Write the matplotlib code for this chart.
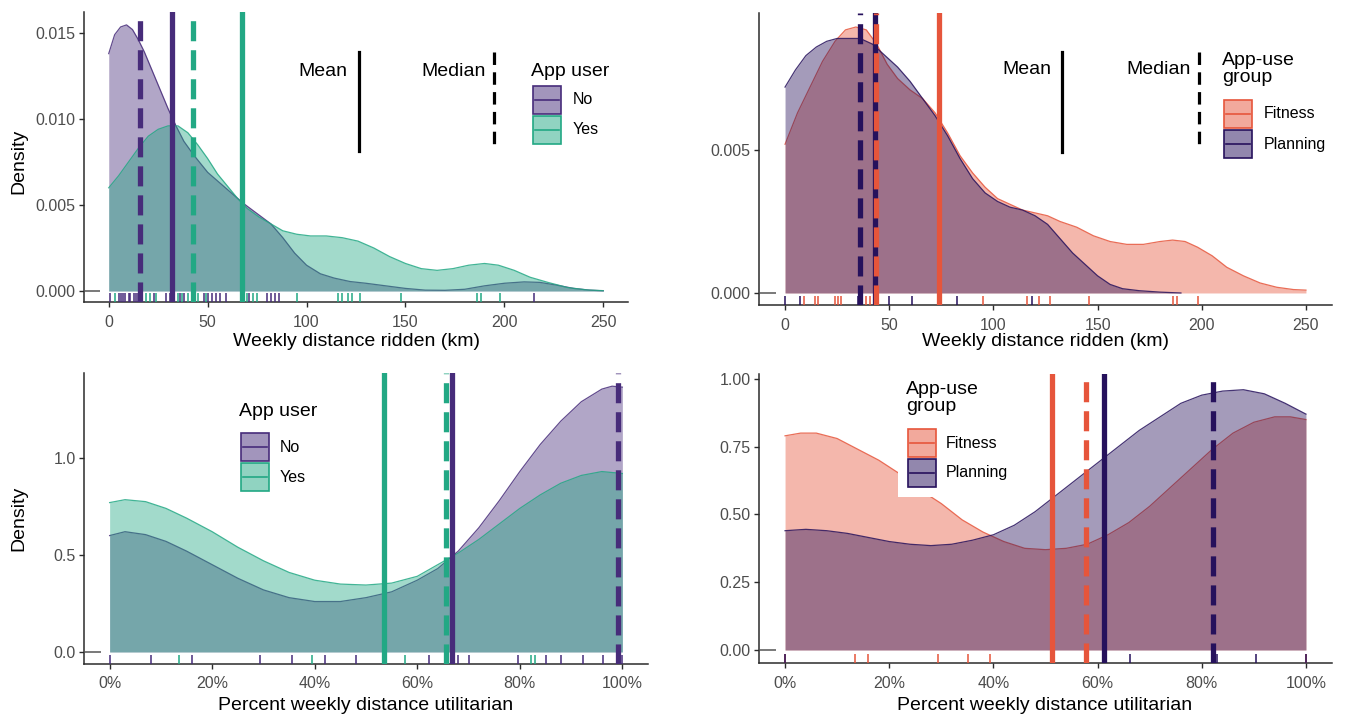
import matplotlib

matplotlib.use("Agg")

import matplotlib.pyplot as plt
from matplotlib.colors import to_rgba
from matplotlib.lines import Line2D
from matplotlib.patches import Rectangle

plt.rcParams["font.family"] = ["Liberation Sans", "DejaVu Sans"]

W, H = 1351, 720

NO_COLOR = "#472c7a"
YES_COLOR = "#22a884"
FITNESS_COLOR = "#e6553b"
PLANNING_COLOR = "#26115c"
AXIS = "#2b2b2b"
TICK_TEXT = "#4d4d4d"
FILL_ALPHA = 0.42

# weekly distance, app user yes / no
km_no = [0, 3, 6, 9, 12, 15, 18, 22, 26, 30, 34, 38, 43, 50, 57, 63, 68, 75, 82, 88, 94,
         100, 107, 114, 122, 130, 140, 150, 160, 170, 180, 190, 200, 210, 218, 226, 235, 243, 250]
dens_no = [0.0138, 0.0149, 0.01535, 0.01547, 0.0152, 0.0146, 0.0139, 0.0128, 0.0117, 0.0106,
           0.0096, 0.0087, 0.0079, 0.0069, 0.0062, 0.0056, 0.0051, 0.0045, 0.0039, 0.0031,
           0.0022, 0.0015, 0.0010, 0.00075, 0.00055, 0.00045, 0.0003, 0.00015, 0.00005,
           0.00004, 0.0001, 0.0003, 0.00045, 0.00053, 0.0005, 0.00035, 0.00015, 0.00005, 0.00001]
km_yes = [0, 5, 10, 15, 20, 25, 30, 35, 40, 45, 50, 55, 60, 65, 70, 76, 82, 88, 95, 102, 110,
          118, 126, 134, 142, 150, 158, 166, 174, 182, 190, 197, 205, 213, 222, 232, 242, 250]
dens_yes = [0.0060, 0.0067, 0.0075, 0.0083, 0.0090, 0.0094, 0.0096, 0.0096, 0.0092, 0.0085,
            0.0077, 0.0068, 0.0061, 0.0054, 0.0048, 0.0043, 0.0039, 0.0035, 0.0033, 0.0032,
            0.0032, 0.0031, 0.0029, 0.0025, 0.0020, 0.0016, 0.0013, 0.0012, 0.0013, 0.0015,
            0.0016, 0.0015, 0.0012, 0.0008, 0.0005, 0.0002, 0.00006, 0.00002]
rug_km_no = [0.5, 5, 6, 7, 8, 10, 11, 13, 14, 15, 16, 17, 23, 29, 31, 36, 38, 48, 50, 52, 54,
             56, 59.5, 71, 80, 82, 84, 86, 215]
rug_km_yes = [3, 19, 21, 24, 33, 35, 37, 40, 42, 43, 45, 49, 67, 70, 73, 75, 95, 116, 118,
              121, 123, 127, 147.5, 186, 188, 198]
mean_km_no, median_km_no = 32, 16
mean_km_yes, median_km_yes = 67.5, 42.5

# weekly distance, fitness / planning app users
km_fit = [0, 6, 12, 18, 24, 29, 34, 39, 44, 49, 54, 60, 66, 72, 78, 84, 90, 96, 102, 108, 114,
          120, 126, 132, 140, 148, 156, 164, 172, 180, 186, 192, 198, 205, 212, 220, 228, 236,
          244, 250]
dens_fit = [0.0052, 0.0063, 0.0072, 0.0081, 0.0088, 0.0092, 0.0093, 0.0092, 0.0087, 0.0080,
            0.0075, 0.0071, 0.0068, 0.0063, 0.0056, 0.0048, 0.0042, 0.0037, 0.0033, 0.0031,
            0.0029, 0.0028, 0.0027, 0.0025, 0.0023, 0.0020, 0.0018, 0.0017, 0.0017, 0.0018,
            0.00185, 0.0018, 0.0016, 0.0013, 0.0009, 0.0006, 0.00035, 0.0002, 0.00012, 0.0001]
km_plan = [0, 5, 10, 15, 20, 25, 30, 36, 42, 48, 54, 60, 66, 72, 78, 84, 90, 96, 102, 108,
           114, 120, 126, 132, 138, 144, 150, 156, 162, 170, 180, 190]
dens_plan = [0.0072, 0.0078, 0.0083, 0.0086, 0.0088, 0.0089, 0.0089, 0.0089, 0.0087, 0.0083,
             0.0079, 0.0074, 0.0068, 0.0062, 0.0055, 0.0047, 0.0040, 0.0035, 0.0032, 0.0030,
             0.0029, 0.0027, 0.0024, 0.0019, 0.0014, 0.0010, 0.0006, 0.0003, 0.00015, 0.00008,
             0.00003, 0.0]
rug_km_fit = [9, 14.5, 16, 24, 25.5, 27, 39, 41, 44, 74, 95, 116, 122, 127, 146, 186, 188, 198]
rug_km_plan = [0, 7, 35, 36, 50, 61, 82.5, 118.5]
mean_km_fit, median_km_fit = 74, 43.5
mean_km_plan, median_km_plan = 43, 36

# share of weekly distance that is utilitarian, app user yes / no
pct_no = [0, 0.03, 0.07, 0.11, 0.15, 0.2, 0.25, 0.3, 0.35, 0.4, 0.45, 0.5, 0.55, 0.6, 0.64,
          0.68, 0.72, 0.76, 0.8, 0.84, 0.88, 0.92, 0.96, 0.98, 1.0]
dens_pct_no = [0.60, 0.62, 0.605, 0.57, 0.52, 0.45, 0.38, 0.32, 0.28, 0.26, 0.26, 0.28, 0.31,
               0.37, 0.43, 0.52, 0.64, 0.78, 0.93, 1.07, 1.19, 1.29, 1.355, 1.37, 1.365]
pct_yes = [0, 0.03, 0.07, 0.11, 0.15, 0.2, 0.25, 0.3, 0.35, 0.4, 0.45, 0.5, 0.55, 0.6, 0.64,
           0.68, 0.72, 0.76, 0.8, 0.84, 0.88, 0.92, 0.96, 1.0]
dens_pct_yes = [0.77, 0.785, 0.775, 0.74, 0.69, 0.62, 0.54, 0.47, 0.41, 0.37, 0.35, 0.345,
                0.355, 0.39, 0.45, 0.51, 0.58, 0.66, 0.74, 0.81, 0.87, 0.91, 0.93, 0.92]
rug_pct_no = [0, 0.08, 0.16, 0.293, 0.355, 0.42, 0.48, 0.623, 0.68, 0.70, 0.797, 0.852, 0.88,
              0.924, 0.962, 0.99, 1.0]
rug_pct_yes = [0.135, 0.395, 0.577, 0.66, 0.822, 0.83]
mean_pct_no, median_pct_no = 0.667, 0.992
mean_pct_yes, median_pct_yes = 0.535, 0.657

# share utilitarian, fitness / planning
pct_fit = [0, 0.03, 0.06, 0.1, 0.14, 0.18, 0.22, 0.26, 0.3, 0.34, 0.38, 0.42, 0.46, 0.5,
           0.54, 0.58, 0.62, 0.66, 0.7, 0.74, 0.78, 0.82, 0.86, 0.9, 0.94, 0.97, 1.0]
dens_pct_fit = [0.79, 0.80, 0.80, 0.78, 0.74, 0.70, 0.65, 0.59, 0.54, 0.48, 0.435, 0.40,
                0.375, 0.37, 0.375, 0.39, 0.425, 0.47, 0.53, 0.60, 0.67, 0.74, 0.80, 0.84,
                0.86, 0.86, 0.85]
pct_plan = [0, 0.04, 0.08, 0.12, 0.16, 0.2, 0.24, 0.28, 0.32, 0.36, 0.4, 0.44, 0.48, 0.52,
            0.56, 0.6, 0.64, 0.68, 0.72, 0.76, 0.8, 0.84, 0.88, 0.92, 0.96, 1.0]
dens_pct_plan = [0.44, 0.445, 0.44, 0.43, 0.415, 0.40, 0.39, 0.385, 0.39, 0.405, 0.425, 0.46,
                 0.51, 0.57, 0.63, 0.69, 0.75, 0.81, 0.86, 0.91, 0.94, 0.955, 0.96, 0.945,
                 0.91, 0.87]
rug_pct_fit = [0, 0.135, 0.159, 0.294, 0.351, 0.394, 1.0]
rug_pct_plan = [0, 0.663, 0.83, 0.905, 1.0]
mean_pct_fit, median_pct_fit = 0.513, 0.577
mean_pct_plan, median_pct_plan = 0.613, 0.821

km_ticks = [0, 50, 100, 150, 200, 250]
pct_ticks = [0, 0.2, 0.4, 0.6, 0.8, 1.0]
pct_tick_labels = ["0%", "20%", "40%", "60%", "80%", "100%"]


def fx(x):
    return x / W


def fy(y):
    return 1 - y / H


def add_panel(fig, left, top, right, bottom):
    return fig.add_axes([fx(left), fy(bottom), (right - left) / W, (bottom - top) / H])


def style_axes(ax, xlim, ylim, xticks, xlabels, yticks, ylabels):
    ax.set_xlim(*xlim)
    ax.set_ylim(*ylim)
    ax.set_xticks(xticks)
    ax.set_xticklabels(xlabels)
    ax.set_yticks(yticks)
    ax.set_yticklabels(ylabels)
    ax.spines[["top", "right"]].set_visible(False)
    for side in ("left", "bottom"):
        ax.spines[side].set_color(AXIS)
        ax.spines[side].set_linewidth(1.1)
    ax.tick_params(length=3.5, width=1, color=AXIS, labelcolor=TICK_TEXT, labelsize=11.5, pad=2.5)
    ax.tick_params(axis="x", pad=5.5)
    ax.patch.set_alpha(0)
    # short rug on the left at density 0
    ax.hlines(0, 0, 0.03, transform=ax.get_yaxis_transform(), color="#555555", lw=1.1, zorder=4)


def draw_group(ax, x, y, color):
    ax.fill_between(x, 0, y, color=color, alpha=FILL_ALPHA, lw=0, zorder=2)
    ax.plot(x, y, color=color, lw=0.9, alpha=0.85, zorder=2)


def draw_rug(ax, values, color):
    ax.vlines(values, 0, 0.03, transform=ax.get_xaxis_transform(), color=color, lw=1.1, zorder=3)


def draw_vline(ax, x, color, dashed=False):
    style = (0, (3.8, 1.7)) if dashed else "-"
    ax.axvline(x, color=color, lw=3.8, linestyle=style, zorder=5)


def draw_stat_key(fig, mean_right, mean_x, median_right, median_x, text_y, top, mean_bottom, median_bottom):
    fig.text(fx(mean_right), fy(text_y), "Mean", ha="right", va="center", fontsize=14)
    fig.text(fx(median_right), fy(text_y), "Median", ha="right", va="center", fontsize=14)
    fig.add_artist(Line2D([fx(mean_x)] * 2, [fy(top), fy(mean_bottom)], color="black", lw=2.3))
    fig.add_artist(Line2D([fx(median_x)] * 2, [fy(top), fy(median_bottom)], color="black", lw=2.3,
                          linestyle=(0, (3.9, 2.3))))


def draw_legend(fig, title, left, title_y, key_top, labels, colors, label_x, key_w=28, key_h=28):
    fig.text(fx(left), fy(title_y), title, ha="left", va="center", fontsize=14, linespacing=1.05)
    for i, (label, color) in enumerate(zip(labels, colors)):
        top = key_top + i * (key_h + 2)
        fig.add_artist(Rectangle((fx(left + 2), fy(top + key_h)), key_w / W, key_h / H,
                                 transform=fig.transFigure, facecolor=to_rgba(color, FILL_ALPHA + 0.08),
                                 edgecolor=color, lw=1.2))
        mid = top + key_h / 2
        fig.add_artist(Line2D([fx(left + 4), fx(left + key_w)], [fy(mid), fy(mid)], color=color, lw=1.2))
        fig.text(fx(label_x), fy(mid), label, ha="left", va="center", fontsize=11.5)


fig = plt.figure(figsize=(W / 100, H / 100), dpi=100, facecolor="white")

# top left
ax = add_panel(fig, 84, 12, 628, 302)
style_axes(ax, (-12.5, 262.5), (-0.00064, 0.01622), km_ticks, [str(t) for t in km_ticks],
           [0, 0.005, 0.01, 0.015], ["0.000", "0.005", "0.010", "0.015"])
draw_group(ax, km_no, dens_no, NO_COLOR)
draw_group(ax, km_yes, dens_yes, YES_COLOR)
draw_rug(ax, rug_km_no, NO_COLOR)
draw_rug(ax, rug_km_yes, YES_COLOR)
draw_vline(ax, mean_km_no, NO_COLOR)
draw_vline(ax, mean_km_yes, YES_COLOR)
draw_vline(ax, median_km_no, NO_COLOR, dashed=True)
draw_vline(ax, median_km_yes, YES_COLOR, dashed=True)

# top right
ax = add_panel(fig, 759, 13, 1332, 305)
style_axes(ax, (-12.5, 262.5), (-0.00042, 0.00979), km_ticks, [str(t) for t in km_ticks],
           [0, 0.005], ["0.000", "0.005"])
draw_group(ax, km_fit, dens_fit, FITNESS_COLOR)
draw_group(ax, km_plan, dens_plan, PLANNING_COLOR)
draw_rug(ax, rug_km_fit, FITNESS_COLOR)
draw_rug(ax, rug_km_plan, PLANNING_COLOR)
draw_vline(ax, mean_km_plan, PLANNING_COLOR)
draw_vline(ax, mean_km_fit, FITNESS_COLOR)
draw_vline(ax, median_km_plan, PLANNING_COLOR, dashed=True)
draw_vline(ax, median_km_fit, FITNESS_COLOR, dashed=True)

# bottom left
ax = add_panel(fig, 84, 373, 648, 664)
style_axes(ax, (-0.05, 1.05), (-0.062, 1.438), pct_ticks, pct_tick_labels,
           [0, 0.5, 1.0], ["0.0", "0.5", "1.0"])
draw_group(ax, pct_no, dens_pct_no, NO_COLOR)
draw_group(ax, pct_yes, dens_pct_yes, YES_COLOR)
draw_rug(ax, rug_pct_no, NO_COLOR)
draw_rug(ax, rug_pct_yes, YES_COLOR)
draw_vline(ax, mean_pct_no, NO_COLOR)
draw_vline(ax, mean_pct_yes, YES_COLOR)
draw_vline(ax, median_pct_no, NO_COLOR, dashed=True)
draw_vline(ax, median_pct_yes, YES_COLOR, dashed=True)

# bottom right
ax = add_panel(fig, 759, 374, 1332, 663)
style_axes(ax, (-0.05, 1.05), (-0.048, 1.018), pct_ticks, pct_tick_labels,
           [0, 0.25, 0.5, 0.75, 1.0], ["0.00", "0.25", "0.50", "0.75", "1.00"])
draw_group(ax, pct_fit, dens_pct_fit, FITNESS_COLOR)
draw_group(ax, pct_plan, dens_pct_plan, PLANNING_COLOR)
draw_rug(ax, rug_pct_fit, FITNESS_COLOR)
draw_rug(ax, rug_pct_plan, PLANNING_COLOR)
draw_vline(ax, mean_pct_fit, FITNESS_COLOR)
draw_vline(ax, mean_pct_plan, PLANNING_COLOR)
draw_vline(ax, median_pct_fit, FITNESS_COLOR, dashed=True)
draw_vline(ax, median_pct_plan, PLANNING_COLOR, dashed=True)

# axis titles
for cx, cy in [(356, 341), (1045, 341)]:
    fig.text(fx(cx), fy(cy), "Weekly distance ridden (km)", ha="center", va="center", fontsize=14)
for cx, cy in [(366, 705), (1045, 705)]:
    fig.text(fx(cx), fy(cy), "Percent weekly distance utilitarian", ha="center", va="center", fontsize=14)
for cy in (161, 518):
    fig.text(fx(19), fy(cy), "Density", rotation=90, ha="center", va="center", fontsize=14)

# mean / median keys
draw_stat_key(fig, 347, 359, 486, 494, 71, 52, 151, 145)
draw_stat_key(fig, 1051, 1062, 1191, 1199, 69, 52, 152, 145)

# group legends
fig.add_artist(Rectangle((fx(898), fy(497)), 142 / W, 125 / H, transform=fig.transFigure,
                         facecolor="white", edgecolor="none"))
draw_legend(fig, "App user", 531, 71, 86, ["No", "Yes"], [NO_COLOR, YES_COLOR], 573)
draw_legend(fig, "App-use\ngroup", 1222, 69, 100, ["Fitness", "Planning"],
            [FITNESS_COLOR, PLANNING_COLOR], 1264)
draw_legend(fig, "App user", 239, 412, 433, ["No", "Yes"], [NO_COLOR, YES_COLOR], 280)
draw_legend(fig, "App-use\ngroup", 906, 398, 429, ["Fitness", "Planning"],
            [FITNESS_COLOR, PLANNING_COLOR], 946)

fig.savefig("out.png", dpi=100, facecolor="white")
